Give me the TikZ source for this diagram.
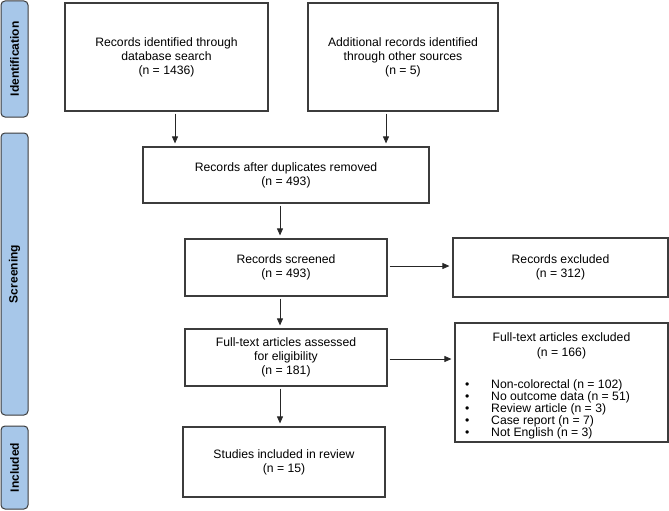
\documentclass[tikz,border=0pt]{standalone}
\usepackage{fontspec}
\setmainfont{Liberation Sans}
\usetikzlibrary{arrows.meta}
\definecolor{barblue}{RGB}{167,199,233}
\definecolor{edge}{RGB}{60,60,60}
\begin{document}
\begin{tikzpicture}[x=1pt,y=-1pt,
  box/.style={draw=edge,line width=1.2pt,fill=white,inner sep=0pt,align=center,
    font=\fontsize{12.2}{14}\selectfont},
  bar/.style={draw=edge,line width=1pt,fill=barblue,rounded corners=4pt,inner sep=0pt,
    minimum width=27pt},
  barlabel/.style={rotate=90,font=\fontsize{12}{14}\selectfont\bfseries},
  arr/.style={draw=black!85,line width=0.8pt,-{Triangle[length=7pt,width=6pt]},
    shorten <=2pt,shorten >=3pt}]
\useasboundingbox (0,0) rectangle (669,511);
% phase bars
\node[bar,minimum height=116pt] (pid) at (14.5,59) {};
\node[barlabel] (lid) at (pid.center) {Identification};
\node[bar,minimum height=282pt] (psc) at (14.5,274) {};
\node[barlabel] (lsc) at (psc.center) {Screening};
\node[bar,minimum height=83pt] (pin) at (14.5,467.5) {};
\node[barlabel] (lin) at (pin.center) {Included};
% boxes
\node[box,minimum width=203pt,minimum height=108pt] (b1) at (166.5,57)
  {Records identified through\\database search\\(n = 1436)};
\node[box,minimum width=190pt,minimum height=108pt] (b2) at (403,57)
  {Additional records identified\\through other sources\\(n = 5)};
\node[box,minimum width=286pt,minimum height=56pt] (b3) at (286,175)
  {Records after duplicates removed\\(n = 493)};
\node[box,minimum width=202pt,minimum height=57pt] (b4) at (286,267.5)
  {Records screened\\(n = 493)};
\node[box,minimum width=215pt,minimum height=59pt] (b5) at (560.5,267.5)
  {Records excluded\\(n = 312)};
\node[box,minimum width=202pt,minimum height=57pt] (b6) at (286,357.5)
  {Full-text articles assessed\\for eligibility\\(n = 181)};
\node[box,minimum width=213pt,minimum height=119pt] (b7) at (561.5,382.5) {};
\node[align=center,inner sep=0pt,font=\fontsize{12.2}{15}\selectfont] (b7t) at (561.5,345.5)
  {Full-text articles excluded\\(n = 166)};
\node[align=left,inner sep=0pt,anchor=north west,font=\fontsize{12.2}{12}\selectfont] (b7l) at (465,379.5)
  {\makebox[26pt][l]{\textbullet}Non-colorectal (n = 102)\\
   \makebox[26pt][l]{\textbullet}No outcome data (n = 51)\\
   \makebox[26pt][l]{\textbullet}Review article (n = 3)\\
   \makebox[26pt][l]{\textbullet}Case report (n = 7)\\
   \makebox[26pt][l]{\textbullet}Not English (n = 3)};
\node[box,minimum width=202pt,minimum height=70pt] (b8) at (284,462)
  {Studies included in review\\(n = 15)};
% arrow positions
\coordinate (x1) at (175,0);
\coordinate (x2) at (386,0);
\coordinate (xm) at (280,0);
\coordinate (y1) at (0,266);
\coordinate (y2) at (0,359);
% arrows
\draw[arr] (b1.south -| x1) -- (b3.north -| x1);
\draw[arr] (b2.south -| x2) -- (b3.north -| x2);
\draw[arr] (b3.south -| xm) -- (b4.north -| xm);
\draw[arr] (b4.south -| xm) -- (b6.north -| xm);
\draw[arr] (b6.south -| xm) -- (b8.north -| xm);
\draw[arr] (b4.east |- y1) -- (b5.west |- y1);
\draw[arr] (b6.east |- y2) -- (b7.west |- y2);
\end{tikzpicture}
\end{document}
